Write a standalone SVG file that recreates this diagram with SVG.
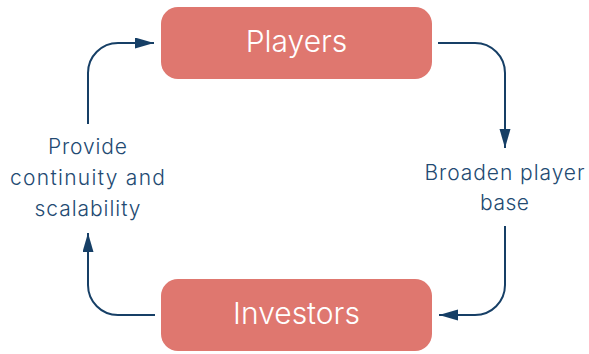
<svg xmlns="http://www.w3.org/2000/svg" width="589" height="354" viewBox="0 0 589 354">
  <style>
    .node rect { fill: #DF776F; }
    .node text { fill: #FFFFFF; font-family: Inter, "Liberation Sans", sans-serif; font-size: 30px; text-anchor: middle; font-weight: 300; }
    .label { fill: #234A72; font-family: Inter, "Liberation Sans", sans-serif; font-size: 21px; text-anchor: middle; letter-spacing: 1px; font-weight: 300; }
    .conn { fill: none; stroke: #163F66; stroke-width: 2; marker-end: url(#arrow); }
  </style>
  <defs>
    <marker id="arrow" markerUnits="userSpaceOnUse" markerWidth="20" markerHeight="12" refX="19" refY="5.5" orient="auto">
      <path d="M0,0 L19,5.5 L0,11 z" fill="#163F66"/>
    </marker>
  </defs>
  <rect width="589" height="354" fill="#FFFFFF"/>
  <g id="connectors">
    <path class="conn" d="M88,124 V73 A30,30 0 0 1 118,43 H154"/>
    <path class="conn" d="M438,43 H475 A30,30 0 0 1 505,73 V148"/>
    <path class="conn" d="M505,226 V285 A30,30 0 0 1 475,315 H439"/>
    <path class="conn" d="M155,315 H118 A30,30 0 0 1 88,285 V233"/>
  </g>
  <g id="node-players" class="node">
    <rect x="161" y="7" width="271" height="72" rx="17"/>
    <text x="296.5" y="52">Players</text>
  </g>
  <g id="node-investors" class="node">
    <rect x="161" y="279" width="271" height="72" rx="17"/>
    <text x="296.5" y="324">Investors</text>
  </g>
  <g id="label-left">
    <text class="label" x="88" y="154" textLength="80">Provide</text>
    <text class="label" x="88" y="185" textLength="156">continuity and</text>
    <text class="label" x="88" y="216" textLength="107">scalability</text>
  </g>
  <g id="label-right">
    <text class="label" x="505" y="180" textLength="161">Broaden player</text>
    <text class="label" x="505" y="210" textLength="50">base</text>
  </g>
</svg>
